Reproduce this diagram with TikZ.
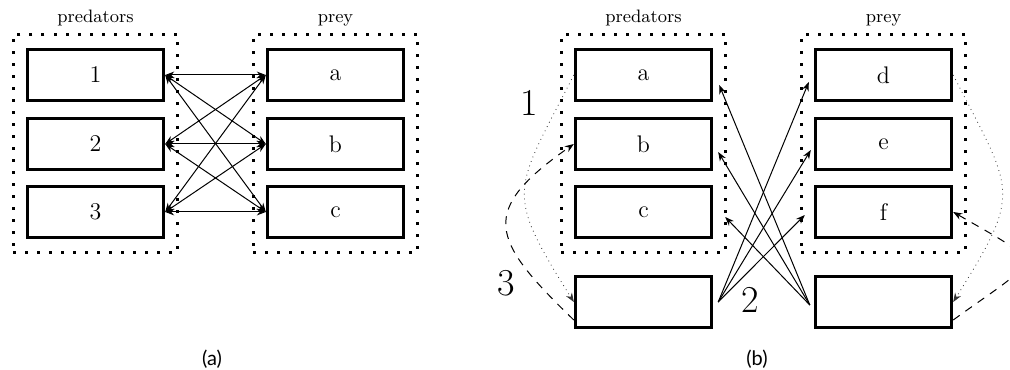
\documentclass[tikz,border=0pt]{standalone}
\usepackage{fontspec}
\newfontfamily\capfont{Lato}
\usetikzlibrary{arrows.meta,fit}

\begin{document}
\begin{tikzpicture}[%
			x=0.5pt, y=0.5pt,
			>={Stealth[length=4.5pt,width=3.4pt]},
			cell/.style={draw, line width=1.7pt, minimum width=68pt, minimum height=25.5pt, inner sep=0pt, font=\fontsize{12}{14}\selectfont},
			group/.style={draw, line width=1.5pt, dash pattern=on 1.5pt off 4.5pt, inner xsep=6.25pt, inner ysep=6.75pt},
			head/.style={font=\fontsize{9}{11}\selectfont},
			stepnum/.style={font=\fontsize{19}{22}\selectfont, inner sep=0pt},
			caption/.style={font=\capfont\fontsize{10}{12}\selectfont},
			link/.style={line width=0.5pt},
			movedot/.style={->, dotted, line width=0.4pt, black!80},
			movedash/.style={->, line width=0.5pt, dash pattern=on 4pt off 3.5pt}
			]
	\useasboundingbox (0,0) rectangle (1010,369);
	% (a)
	\node[cell] (A1) at (95.5,294) {1};
	\node[cell] (A2) at (95.5,225) {2};
	\node[cell] (A3) at (95.5,157) {3};
	\node[cell] (Aa) at (335.5,294) {a};
	\node[cell] (Ab) at (335.5,225) {b};
	\node[cell] (Ac) at (335.5,157) {c};
	\node[group, fit=(A1)(A3), label={[head]above:predators}] (Apred) {};
	\node[group, fit=(Aa)(Ac), label={[head]above:prey}] (Aprey) {};
	\foreach \s in {1,2,3}
		\foreach \t in {a,b,c}
			\draw[link, <->] (A\s.east) -- (A\t.west);
	\node[caption] (Acap) at (212,10) {(a)};
	% (b)
	\node[cell] (Ba) at (643.5,294) {a};
	\node[cell] (Bb) at (643.5,225) {b};
	\node[cell] (Bc) at (643.5,157) {c};
	\node[cell] (Bl) at (643.5,67) {};
	\node[cell] (Bd) at (883.5,294) {d};
	\node[cell] (Be) at (883.5,225) {e};
	\node[cell] (Bf) at (883.5,157) {f};
	\node[cell] (Br) at (883.5,67) {};
	\node[group, fit=(Ba)(Bc), label={[head]above:predators}] (Bpred) {};
	\node[group, fit=(Bd)(Bf), label={[head]above:prey}] (Bprey) {};
	% step 1
	\draw[movedot] (Ba.west) to[out=243, in=122, looseness=1.5] (Bl.west);
	\draw[movedot] (Bd.east) to[out=297, in=58, looseness=1.5] (Br.east);
	% step 2
	\draw[link, ->] ([xshift=2.5pt]Bl.east) -- ([xshift=-2.5pt, yshift=-3.5pt]Bd.west);
	\draw[link, ->] ([xshift=2.5pt]Bl.east) -- ([xshift=-1.5pt, yshift=-3pt]Be.west);
	\draw[link, ->] ([xshift=2.5pt]Bl.east) -- ([xshift=-4.5pt, yshift=-1.5pt]Bf.west);
	\draw[link, ->] ([xshift=-2pt, yshift=-1.5pt]Br.west) -- ([xshift=3pt, yshift=-5pt]Ba.east);
	\draw[link, ->] ([xshift=-2pt, yshift=-1.5pt]Br.west) -- ([xshift=2.5pt, yshift=-4pt]Bb.east);
	\draw[link, ->] ([xshift=-2pt, yshift=-1.5pt]Br.west) -- ([xshift=6pt, yshift=-2.5pt]Bc.east);
	% step 3
	\draw[movedash] ([yshift=-9pt]Bl.west) to[out=136, in=215, looseness=1.7] (Bb.west);
	\draw[movedash] ([yshift=-9pt]Br.east) to[out=36, in=330, looseness=2.6] (Bf.east);
	\node[stepnum] (n1) at (529,266) {1};
	\node[stepnum] (n2) at (750,69) {2};
	\node[stepnum] (n3) at (506,86) {3};
	\node[caption] (Bcap) at (757,10) {(b)};
\end{tikzpicture}
\end{document}
